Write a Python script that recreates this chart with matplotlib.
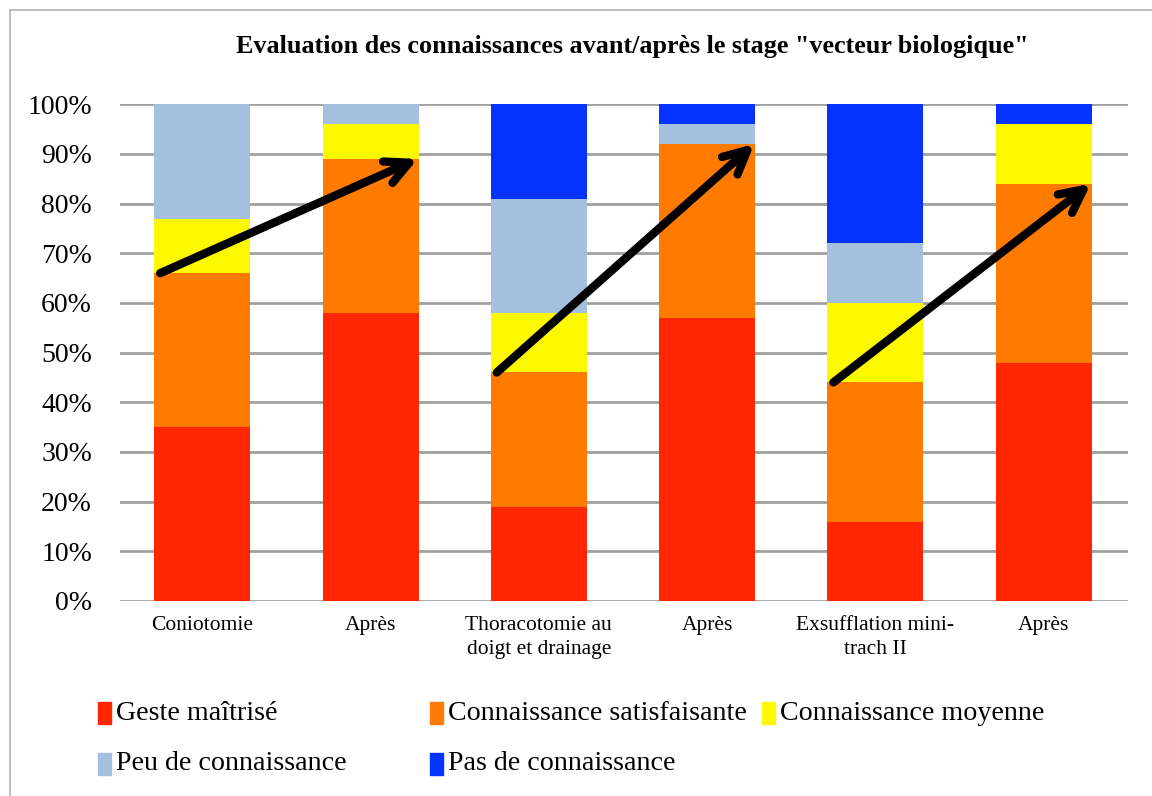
import numpy as np
import matplotlib.pyplot as plt
from matplotlib.patches import Rectangle

plt.rcParams["font.family"] = ["Liberation Serif", "DejaVu Serif"]

CATEGORIES = ["Coniotomie", "Après", "Thoracotomie au\ndoigt et drainage", "Après",
              "Exsufflation mini-\ntrach II", "Après"]
SERIES = ["Geste maîtrisé", "Connaissance satisfaisante", "Connaissance moyenne",
          "Peu de connaissance", "Pas de connaissance"]
COLORS = ["#FF2600", "#FF7B00", "#FFF900", "#A4C0DE", "#0433FF"]

geste = [35, 58, 19, 57, 16, 48]
satisfaisante = [31, 31, 27, 35, 28, 36]
moyenne = [11, 7, 12, 0, 16, 12]
peu = [23, 4, 23, 4, 12, 0]
pas = [0, 0, 19, 4, 28, 4]

# before -> after pairs shown by the arrows
PAIRS = [(0, 1), (2, 3), (4, 5)]

fig = plt.figure(figsize=(11.52, 7.96), dpi=100)
ax = fig.add_axes([0.104, 0.245, 0.875, 0.624])

# light frame around the chart
fig.patches.append(Rectangle((10 / 1152, -0.1), 1.2, 1.1 - 10 / 796, transform=fig.transFigure,
                             fill=False, edgecolor="#b0b0b0", lw=1.2))

x = np.arange(len(CATEGORIES))
data = [geste, satisfaisante, moyenne, peu, pas]
bottom = np.zeros(len(CATEGORIES))
for vals, name, col in zip(data, SERIES, COLORS):
    ax.bar(x, vals, 0.57, bottom=bottom, color=col, label=name, zorder=2)
    bottom += np.array(vals)

top_orange = np.array(geste) + np.array(satisfaisante)
for a, b in PAIRS:
    ax.annotate("", xy=(b + 0.28, top_orange[b]), xytext=(a - 0.25, top_orange[a]),
                arrowprops=dict(arrowstyle="->", lw=6, color="black",
                                mutation_scale=42, shrinkA=0, shrinkB=0), zorder=5)

ax.set_xlim(-0.49, 5.5)
ax.set_ylim(0, 100)
ax.set_yticks(np.arange(0, 101, 10))
ax.set_yticklabels([f"{v}%" for v in range(0, 101, 10)], fontsize=20)
ax.set_xticks(x)
ax.set_xticklabels(CATEGORIES, fontsize=15.5, linespacing=1.35, va="top")
ax.tick_params(axis="y", length=0, pad=20)
ax.tick_params(axis="x", length=0, pad=11)
ax.grid(axis="y", color="#a0a0a0", lw=2, zorder=0)
for s in ax.spines.values():
    s.set_visible(False)

fig.text(0.549, 0.941, 'Evaluation des connaissances avant/après le stage "vecteur biologique"',
         ha="center", va="center", fontsize=18.8, fontweight="bold")

# legend laid out in equal columns
leg_pos = [(98, 713), (430, 713), (762, 713), (98, 764), (430, 764)]
for (px, py), name, col in zip(leg_pos, SERIES, COLORS):
    fig.patches.append(Rectangle((px / 1152, 1 - (py + 11) / 796), 13 / 1152, 22 / 796,
                                 transform=fig.transFigure, color=col))
    fig.text((px + 18) / 1152, 1 - py / 796, name, ha="left", va="center", fontsize=20.2)

fig.savefig("out.png", dpi=100)
